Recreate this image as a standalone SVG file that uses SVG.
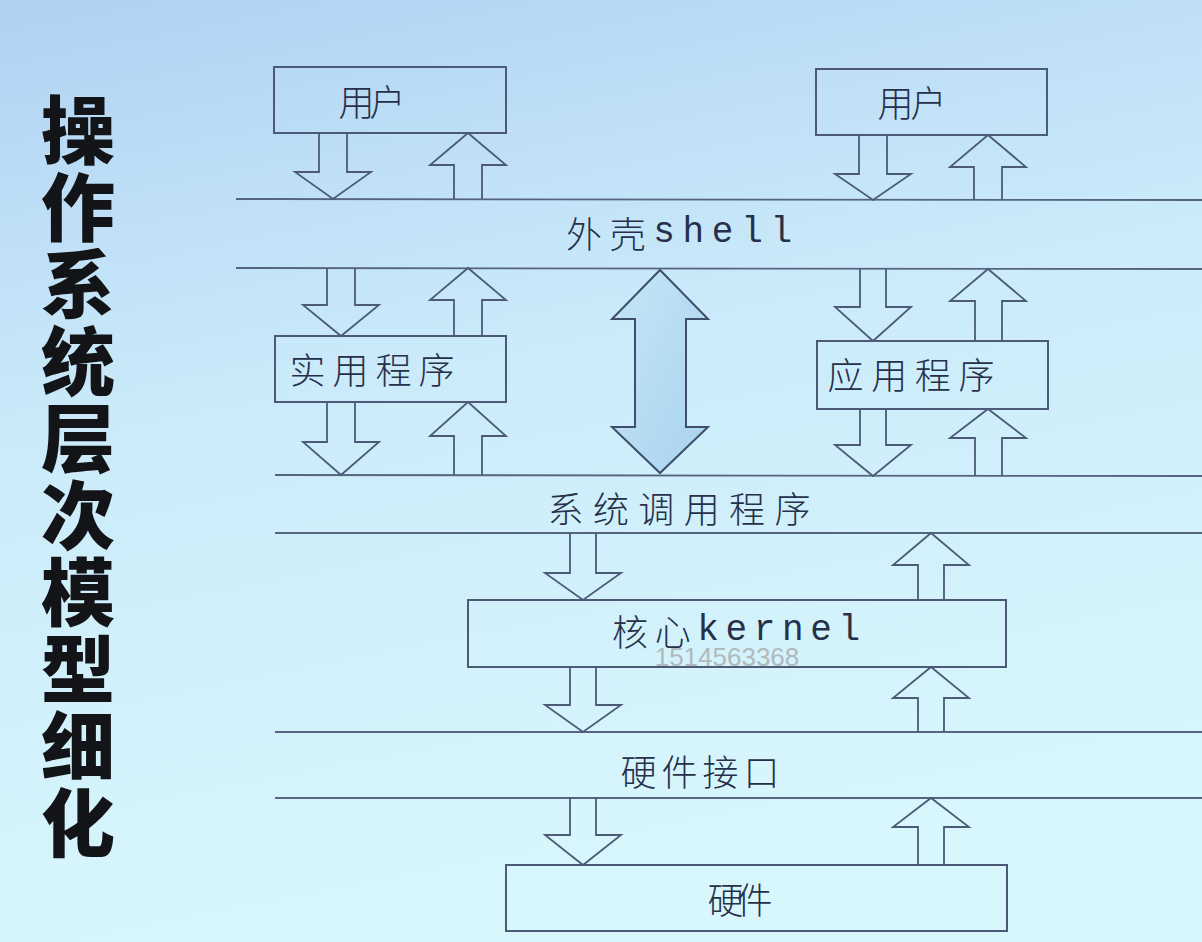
<svg xmlns="http://www.w3.org/2000/svg" width="1202" height="942" viewBox="0 0 1202 942">
<defs>
<linearGradient id="bg" x1="0" y1="0" x2="0.25" y2="1">
<stop offset="0" stop-color="#b0d2f3"/>
<stop offset="0.45" stop-color="#cbebfa"/>
<stop offset="1" stop-color="#d8f7fc"/>
</linearGradient>
<linearGradient id="dbl" x1="0" y1="0" x2="1" y2="1">
<stop offset="0" stop-color="#c6e6f7"/>
<stop offset="1" stop-color="#a8d3ee"/>
</linearGradient>
<style>
.ln{stroke:#55647f;stroke-width:1.8;fill:none}
.box{stroke:#4c5a78;stroke-width:2;fill:none}
.arr{stroke:#4c5a78;stroke-width:1.8;fill:none;stroke-linejoin:miter}
.t{font-family:"Noto Sans CJK SC","Liberation Sans",sans-serif;font-weight:300;fill:#27304a;font-size:36px;text-anchor:middle;dominant-baseline:central}
.m{font-family:"Liberation Mono","Noto Sans CJK SC",monospace}
.title{font-family:"Noto Sans CJK SC",sans-serif;font-weight:900;font-size:74px;fill:#121418;writing-mode:vertical-rl}
</style>
</defs>
<rect width="1202" height="942" fill="url(#bg)"/>
<g id="title">
<text class="title" x="78" y="93">操</text>
<text class="title" x="78" y="170">作</text>
<text class="title" x="78" y="247">系</text>
<text class="title" x="78" y="324">统</text>
<text class="title" x="78" y="401">层</text>
<text class="title" x="78" y="478">次</text>
<text class="title" x="78" y="555">模</text>
<text class="title" x="78" y="632">型</text>
<text class="title" x="78" y="709">细</text>
<text class="title" x="78" y="786">化</text>
</g>
<g id="layers">
<line class="ln" x1="236" y1="199" x2="1202" y2="200"/>
<line class="ln" x1="236" y1="268" x2="1202" y2="269"/>
<line class="ln" x1="275" y1="475" x2="1202" y2="476"/>
<line class="ln" x1="275" y1="533" x2="1202" y2="533"/>
<line class="ln" x1="275" y1="732" x2="1202" y2="732"/>
<line class="ln" x1="275" y1="798" x2="1202" y2="798"/>
<text class="t" x="679" y="232" textLength="226" lengthAdjust="spacing">外壳<tspan class="m">shell</tspan></text>
<text class="t" x="679" y="507" textLength="263" lengthAdjust="spacing">系统调用程序</text>
<text class="t" x="700" y="770" textLength="159" lengthAdjust="spacing">硬件接口</text>
</g>
<g id="user-left">
<rect class="box" x="274" y="67" width="232" height="66"/>
<text class="t" x="372" y="100" textLength="67" lengthAdjust="spacing">用户</text>
</g>
<g id="user-right">
<rect class="box" x="816" y="69" width="231" height="66"/>
<text class="t" x="912" y="101" textLength="69" lengthAdjust="spacing">用户</text>
</g>
<g id="utility">
<rect class="box" x="275" y="336" width="231" height="66"/>
<text class="t" x="372" y="368" textLength="165" lengthAdjust="spacing">实用程序</text>
</g>
<g id="application">
<rect class="box" x="817" y="341" width="231" height="68"/>
<text class="t" x="911" y="373" textLength="167" lengthAdjust="spacing">应用程序</text>
</g>
<g id="kernel">
<rect class="box" x="468" y="600" width="538" height="67"/>
<text class="t" x="736" y="630" textLength="248" lengthAdjust="spacing">核心<tspan class="m">kernel</tspan></text>
</g>
<g id="hardware">
<rect class="box" x="506" y="865" width="501" height="66"/>
<text class="t" x="740" y="898" textLength="65" lengthAdjust="spacing">硬件</text>
</g>
<g id="connectors">
<path class="arr" d="M319,133V172H295L333,199L371,172H347V133"/>
<path class="arr" d="M454,199V165H430L468,133L506,165H482V199"/>
<path class="arr" d="M859,135V174H835L873,200L911,174H887V135"/>
<path class="arr" d="M974,200V167H950L988,135L1026,167H1002V200"/>
<path class="arr" d="M327,268V305H303L341,336L379,305H355V268"/>
<path class="arr" d="M454,336V300H430L468,268L506,300H482V336"/>
<path class="arr" d="M327,402V442H303L341,475L379,442H355V402"/>
<path class="arr" d="M454,475V436H430L468,402L506,436H482V475"/>
<path class="arr" d="M860,269V307H835L873,341L911,307H886V269"/>
<path class="arr" d="M975,341V301H950L988,269L1026,301H1002V341"/>
<path class="arr" d="M860,409V445H835L873,476L911,445H886V409"/>
<path class="arr" d="M975,476V438H950L988,409L1026,438H1002V476"/>
<path class="arr" d="M570,533V573H545L583,600L621,573H596V533"/>
<path class="arr" d="M918,600V565H893L931,533L969,565H944V600"/>
<path class="arr" d="M570,667V705H545L583,732L621,705H596V667"/>
<path class="arr" d="M918,732V698H893L931,667L969,698H944V732"/>
<path class="arr" d="M570,798V835H545L583,865L621,835H596V798"/>
<path class="arr" d="M918,865V827H893L931,798L969,827H944V865"/>
<path d="M660,270L708,319H686V427H708L660,473L612,427H635V319H612Z" fill="url(#dbl)" stroke="#3f4e6c" stroke-width="2" stroke-linejoin="miter"/>
</g>
<text x="727" y="666" font-family="Liberation Sans, sans-serif" font-size="26" fill="#b1b9bd" text-anchor="middle">1514563368</text>
</svg>
